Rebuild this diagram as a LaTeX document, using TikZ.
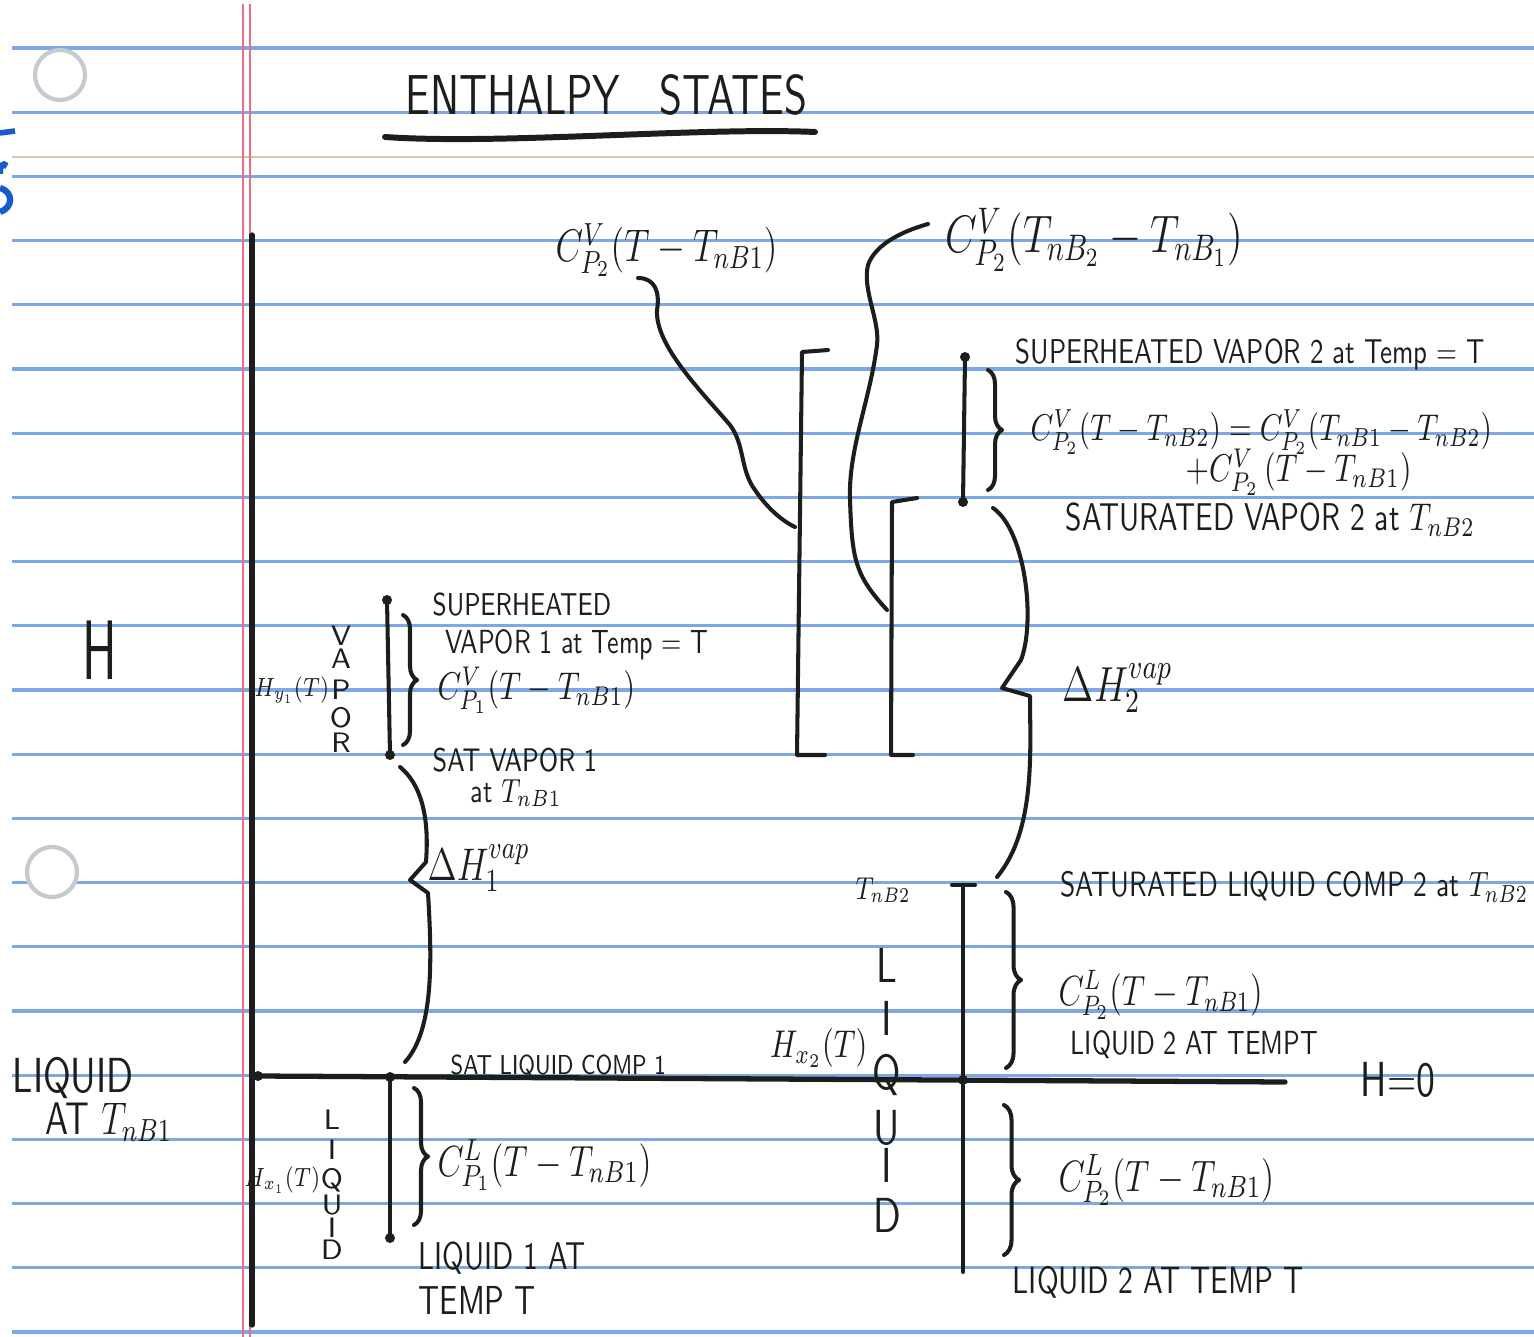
\RequirePackage{fix-cm}
\documentclass[tikz,border=0pt]{standalone}
\usepackage{graphicx}
\usetikzlibrary{decorations.pathreplacing}
\definecolor{ruleblue}{RGB}{125,168,228}
\definecolor{ruletan}{RGB}{215,200,172}
\definecolor{margred}{RGB}{232,112,132}
\definecolor{holegray}{RGB}{196,202,208}
\definecolor{ink}{RGB}{28,30,28}
\definecolor{pageblue}{RGB}{24,92,200}
\newcommand{\narrowtext}[2][0.78]{\scalebox{#1}[1]{#2}}

\begin{document}
\begin{tikzpicture}[x=0.01cm, y=-0.01cm,
  rule/.style={ruleblue, line width=0.9pt},
  inkline/.style={draw=ink, line width=1.15pt, line cap=round, line join=round},
  axis/.style={draw=ink, line width=1.5pt, line cap=round},
  dot/.style={circle, fill=ink, inner sep=0pt, minimum size=0.1cm},
  brc/.style={inkline, decorate, decoration={brace, amplitude=#1}},
  lab/.style={text=ink, inner sep=0pt, font=\sffamily\fontsize{#1}{#1}\selectfont}
]
\fill[white] (0,0) rectangle (1534,1337);
\useasboundingbox (0,0) rectangle (1534,1337);

% ruled paper
\foreach \k in {0,...,20}
  \draw[rule] (12,{48+64.2*\k}) -- (1534,{48+64.2*\k});
\draw[ruletan, line width=0.7pt] (12,157) -- (1534,157);
\draw[margred, line width=0.8pt] (243,4) -- (243,1337);
\draw[margred, line width=0.8pt] (250,4) -- (250,1337);
\draw[holegray, line width=1.2pt, fill=white] (60,75) circle (25);
\draw[holegray, line width=1.2pt, fill=white] (52,872) circle (25);
\draw[pageblue, line width=1.6pt] (0,133) -- (15,131);
\draw[pageblue, line width=1.8pt] (7,166) .. controls (3,162) and (-1,166) .. (0,174);
\draw[pageblue, line width=1.8pt] (0,188) .. controls (14,192) and (13,208) .. (0,212);

% title
\node[lab=16, anchor=west] (ttl) at (405,95) {\narrowtext{ENTHALPY\hspace{0.9em}STATES}};
\coordinate (ulA) at (385,137);
\coordinate (ulB) at (815,132);
\draw[inkline, line width=1.7pt] (ulA) .. controls (500,145) and (700,127) .. (ulB);

% axes
\coordinate (ytop) at (252,235);
\coordinate (ybot) at (252,1325);
\coordinate (xend) at (1285,1082);
\node[dot] (orig) at (258,1076) {};
\draw[axis] (ytop) -- (ybot);
\draw[axis] (orig.center) -- (xend);
\node[lab=24] (hlab) at (100,650) {\narrowtext[0.62]{H}};
\node[lab=14, anchor=west] (liqT1) at (12,1078) {\narrowtext{LIQUID}};
\node[lab=13, anchor=west] (liqT2) at (45,1122) {\narrowtext{AT $T_{nB1}$}};
\node[lab=14, anchor=west] (hzero) at (1360,1080) {\narrowtext{H=0}};

% component 1
\node[dot] (l1) at (390,1238) {};
\node[dot] (s1) at (390,1077) {};
\node[dot] (sv1) at (390,755) {};
\node[dot] (v1) at (387,600) {};
\draw[inkline] (s1.center) -- (l1.center);
\draw[inkline] (v1.center) -- (sv1.center);
\draw[brc=0.14cm] (414,1088) -- (414,1225);
\draw[brc=0.14cm] (403,615) -- (403,745);
\coordinate (d1a) at (400,767);
\coordinate (d1b) at (405,1062);
\draw[inkline] (d1a) .. controls (428,790) and (428,835) .. (426,862) -- (410,880)
  -- (428,893) .. controls (432,960) and (434,1030) .. (d1b);

\node[lab=9, anchor=west] (shv1a) at (432,605) {\narrowtext{SUPERHEATED}};
\node[lab=9.5, anchor=west] (shv1b) at (445,645) {\narrowtext{VAPOR 1 at Temp = T}};
\node[lab=11, anchor=west] (cpv1) at (437,690) {\narrowtext{$C_{P_1}^{V}(T-T_{nB1})$}};
\node[lab=9.3, anchor=west] (satv1a) at (432,760) {\narrowtext{SAT VAPOR 1}};
\node[lab=9.5, anchor=west] (satv1b) at (470,793) {\narrowtext{at $T_{nB1}$}};
\node[lab=13, anchor=west] (dh1) at (427,868) {\narrowtext{$\Delta H_1^{vap}$}};
\node[lab=7.8, anchor=west] (satl1) at (450,1066) {\narrowtext{SAT LIQUID COMP 1}};
\node[lab=12.4, anchor=west] (cpl1) at (437,1165) {\narrowtext{$C_{P_1}^{L}(T-T_{nB1})$}};
\node[lab=11, anchor=west] (liq1a) at (418,1258) {\narrowtext{LIQUID 1 AT}};
\node[lab=11.5, anchor=west] (liq1b) at (418,1300) {\narrowtext{TEMP T}};

\foreach \ch/\yy [count=\i] in {V/636,A/659,P/690,O/718,R/743}
  \node[lab=8] (vapa\i) at (341,\yy) {\ch};
\node[lab=7.5, anchor=east] (hy1) at (330,690) {\narrowtext{$H_{y_1}(T)$}};
\foreach \ch/\yy [count=\i] in {L/1120,I/1150,Q/1180,U/1205,I/1228,D/1250}
  \node[lab=8] (liqa\i) at (332,\yy) {\ch};
\node[lab=7.5, anchor=east] (hx1) at (321,1180) {\narrowtext{$H_{x_1}(T)$}};

% component 2
\node[dot] (v2) at (965,357) {};
\node[dot] (sv2) at (963,502) {};
\node[dot] (x2) at (963,1080) {};
\coordinate (tb2) at (963,885);
\coordinate (lb2) at (963,1272);
\draw[inkline] (v2.center) -- (sv2.center);
\draw[inkline] (tb2) -- (lb2);
\draw[inkline] ([xshift=-0.11cm]tb2) -- ([xshift=0.12cm]tb2);
\draw[brc=0.14cm] (988,370) -- (988,490);
\draw[brc=0.15cm] (1006,892) -- (1006,1068);
\draw[brc=0.15cm] (1004,1105) -- (1004,1255);
\coordinate (d2a) at (993,508);
\coordinate (d2b) at (997,877);
\draw[inkline] (d2a) .. controls (1025,530) and (1036,620) .. (1021,660) -- (1002,688)
  -- (1030,696) .. controls (1030,750) and (1036,830) .. (d2b);

\node[lab=9.8, anchor=west] (shv2) at (1015,355) {\narrowtext{SUPERHEATED VAPOR 2 at Temp = T}};
\node[lab=10.6, anchor=west] (cpv2a) at (1030,432) {\narrowtext{$C_{P_2}^{V}(T-T_{nB2}) = C_{P_2}^{V}(T_{nB1}-T_{nB2})$}};
\node[lab=11, anchor=west] (cpv2b) at (1185,472) {\narrowtext{$+C_{P_2}^{V}\,(T - T_{nB1})$}};
\node[lab=11, anchor=west] (satv2) at (1065,520) {\narrowtext{SATURATED VAPOR 2 at $T_{nB2}$}};
\node[lab=14, anchor=west] (dh2) at (1062,688) {\narrowtext{$\Delta H_2^{vap}$}};
\node[lab=9, anchor=west] (tnb2) at (855,890) {\narrowtext{$T_{nB2}$}};
\node[lab=10, anchor=west] (satl2) at (1060,887) {\narrowtext{SATURATED LIQUID COMP 2 at $T_{nB2}$}};
\node[lab=12, anchor=west] (cpl2a) at (1058,995) {\narrowtext{$C_{P_2}^{L}(T-T_{nB1})$}};
\node[lab=9.5, anchor=west] (liq2a) at (1070,1045) {\narrowtext{LIQUID 2 AT TEMPT}};
\node[lab=12.5, anchor=west] (cpl2b) at (1058,1180) {\narrowtext{$C_{P_2}^{L}(T-T_{nB1})$}};
\node[lab=10.8, anchor=west] (liq2b) at (1012,1282) {\narrowtext{LIQUID 2 AT TEMP T}};

\foreach \ch/\yy [count=\i] in {L/965,I/1018,Q/1075,U/1128,I/1165,D/1215}
  \node[lab=14] (liqb\i) at (887,\yy) {\narrowtext[0.8]{\ch}};
\node[lab=11, anchor=east] (hx2) at (868,1048) {\narrowtext{$H_{x_2}(T)$}};

% brackets and leaders
\coordinate (bk1t) at (802,352);
\coordinate (bk1b) at (797,755);
\coordinate (bk2t) at (892,502);
\coordinate (bk2b) at (891,755);
\draw[inkline] (828,350) -- (bk1t) -- (bk1b) -- (825,755);
\draw[inkline] (917,498) -- (bk2t) -- (bk2b) -- (913,755);

\node[lab=13, anchor=west] (cptop1) at (555,250) {\narrowtext{$C_{P_2}^{V}(T-T_{nB1})$}};
\node[lab=15, anchor=west] (cptop2) at (945,240) {\narrowtext{$C_{P_2}^{V}(T_{nB_2}-T_{nB_1})$}};
\coordinate (ld1) at (638,278);
\coordinate (ld1e) at (795,527);
\coordinate (ld2) at (928,224);
\coordinate (ld2e) at (887,610);
\draw[inkline] (ld1) .. controls (655,278) and (660,292) .. (657,310)
  .. controls (655,345) and (700,390) .. (730,425)
  .. controls (745,445) and (740,470) .. (755,490)
  .. controls (765,505) and (780,520) .. (ld1e);
\draw[inkline] (ld2) .. controls (900,232) and (875,245) .. (868,265)
  .. controls (862,290) and (880,320) .. (877,345)
  .. controls (870,400) and (848,450) .. (850,500)
  .. controls (852,560) and (855,575) .. (ld2e);
\end{tikzpicture}
\end{document}
